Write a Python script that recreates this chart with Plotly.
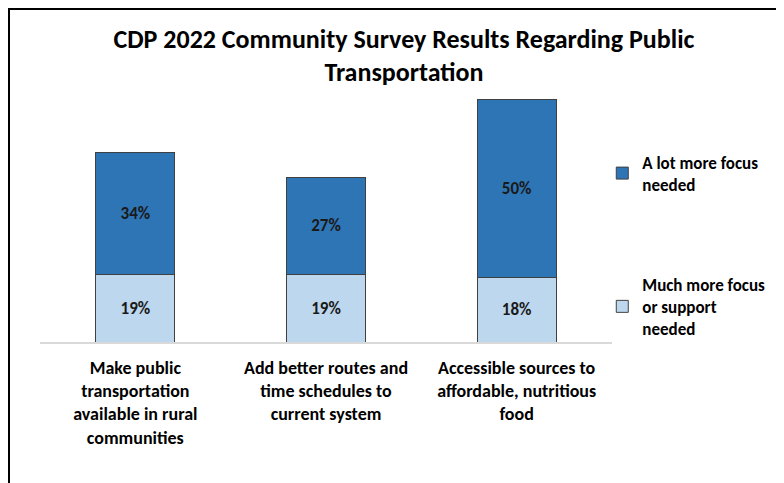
import plotly.graph_objects as go

# Survey data
categories = [
    "Make public<br>transportation<br>available in rural<br>communities",
    "Add better routes and<br>time schedules to<br>current system",
    "Accessible sources to<br>affordable, nutritious<br>food",
]
much_more = [19, 19, 18]
a_lot_more = [34, 27, 50]

DARK = "#2E75B6"
LIGHT = "#BDD7EE"
FONT = "Carlito, Lato, sans-serif"
W, H = 784, 483
# page body adds an 8px offset, so the margins are shifted to compensate
L, R, T, B = 32, 180, 84, 149

fig = go.Figure()
fig.add_trace(go.Bar(
    x=categories, y=much_more, name="<b>Much more focus<br>or support<br>needed</b>",
    marker=dict(color=LIGHT, line=dict(color="#404040", width=1)),
    text=[f"<b>{v}%</b>" for v in much_more], textposition="inside",
    insidetextanchor="middle", legendgroup="b", legendrank=2,
    textfont=dict(size=17, color="#1a1a1a", family=FONT),
))
fig.add_trace(go.Bar(
    x=categories, y=a_lot_more, name="<b>A lot more focus<br>needed</b>",
    marker=dict(color=DARK, line=dict(color="#404040", width=1)),
    text=[f"<b>{v}%</b>" for v in a_lot_more], textposition="inside",
    insidetextanchor="middle", legendgroup="a", legendrank=1,
    textfont=dict(size=17, color="#1a1a1a", family=FONT),
))

pw, ph = W - L - R, H - T - B
fig.add_shape(type="rect", xref="paper", yref="paper",
              x0=(1 - L) / pw, x1=(W + 5 - L) / pw,
              y0=-(H + 5 - T - ph) / ph, y1=(T + ph - 1) / ph,
              line=dict(color="black", width=2), fillcolor="rgba(0,0,0,0)", layer="below")

fig.update_layout(
    template="none",
    width=W, height=H,
    barmode="stack", bargap=0.585,
    title=dict(text="<b>CDP 2022 Community Survey Results Regarding Public<br>Transportation</b>",
               x=0.505, xanchor="center", y=0.918, yanchor="top",
               font=dict(size=26, color="black", family=FONT)),
    font=dict(family=FONT, color="black"),
    paper_bgcolor="white", plot_bgcolor="white",
    margin=dict(l=L, r=R, t=T, b=B, autoexpand=False),
    showlegend=True,
    uniformtext=dict(mode="show", minsize=15),
    legend=dict(x=0.983, xanchor="left", y=0.79, yanchor="top",
                traceorder="grouped", tracegroupgap=75,
                font=dict(size=17, family=FONT), itemwidth=30,
                bgcolor="rgba(0,0,0,0)"),
)
fig.update_xaxes(showline=True, linecolor="#d9d9d9", linewidth=2,
                 ticks="", tickfont=dict(size=18, family=FONT),
                 tickvals=categories, ticktext=[f"<b>{c}</b>" for c in categories],
                 ticklabelstandoff=8,
                 showgrid=False, automargin=False, zeroline=False)
fig.update_yaxes(range=[0, 70], visible=False, showgrid=False,
                 automargin=False, zeroline=False)

fig.write_html("out.html")
